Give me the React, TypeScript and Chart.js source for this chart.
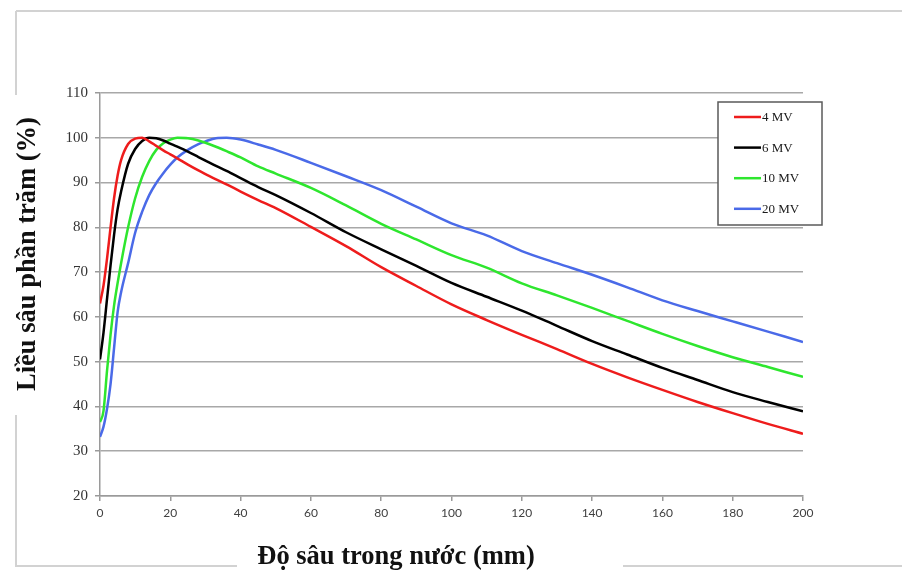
import { useEffect, useRef } from "react";
import { Chart, registerables } from "chart.js";

Chart.register(...registerables);

// Depth in water (mm)
const depthMm = [0, 1, 2, 3, 4, 5, 6, 8, 10, 12, 14, 16, 18, 20, 22, 25, 28, 30, 33, 36, 40, 45, 50, 60, 70, 80, 90, 100, 110, 120, 130, 140, 150, 160, 170, 180, 190, 200];

// Percent depth dose (%)
const pdd4MV = [63, 67, 73, 80, 86.5, 91.5, 95, 98.6, 99.8, 100, 99.2, 98.2, 97.2, 96.3, 95.4, 94.0, 92.7, 91.9, 90.7, 89.6, 88.0, 86.1, 84.3, 80.1, 75.8, 71.1, 66.9, 62.8, 59.3, 56.0, 52.8, 49.5, 46.5, 43.7, 41.0, 38.5, 36.1, 33.9];
const pdd6MV = [50.5, 56.5, 64, 71.5, 78.3, 84, 88, 94.2, 97.5, 99.3, 100, 99.9, 99.4, 98.7, 98.0, 96.9, 95.7, 94.9, 93.7, 92.6, 91.0, 89.0, 87.2, 83.2, 78.9, 75.1, 71.4, 67.6, 64.5, 61.4, 58.0, 54.6, 51.6, 48.6, 45.9, 43.2, 41.0, 38.9];
const pdd10MV = [36.5, 39, 48, 56, 62.5, 67.5, 72, 80, 86.5, 91.3, 94.8, 97.3, 98.8, 99.6, 100, 99.9, 99.4, 98.9, 98.0, 97.0, 95.6, 93.6, 92.0, 88.8, 84.9, 80.8, 77.3, 73.8, 71.0, 67.5, 64.8, 62.0, 59.1, 56.2, 53.5, 51.0, 48.8, 46.6];
const pdd20MV = [33.2, 35.5, 39.5, 45, 53, 61, 65.5, 72, 78.8, 83.5, 87.2, 89.9, 92.1, 94.0, 95.6, 97.3, 98.6, 99.2, 99.9, 100, 99.6, 98.5, 97.3, 94.4, 91.4, 88.3, 84.6, 80.9, 78.2, 74.7, 72.0, 69.4, 66.6, 63.7, 61.3, 59.0, 56.7, 54.4];

const seriesLabels = ["4 MV", "6 MV", "10 MV", "20 MV"];
const seriesValues = [pdd4MV, pdd6MV, pdd10MV, pdd20MV];
const seriesColors = ["#ee1c1c", "#000000", "#2ee62e", "#4a6ae8"];

const xTitle = "Độ sâu trong nước (mm)";
const yTitle = "Liều sâu phần trăm (%)";

const decorPlugin = {
  id: "decor",
  beforeDraw(chart: any) {
    const ctx = chart.ctx as CanvasRenderingContext2D;
    ctx.save();
    ctx.fillStyle = "#ffffff";
    ctx.fillRect(0, 0, chart.width, chart.height);
    // outer frame
    ctx.strokeStyle = "#d2d2d2";
    ctx.lineWidth = 2;
    ctx.beginPath();
    ctx.moveTo(16, 11);
    ctx.lineTo(902, 11);
    ctx.moveTo(16, 11);
    ctx.lineTo(16, 95);
    ctx.moveTo(16, 415);
    ctx.lineTo(16, 566);
    ctx.lineTo(237, 566);
    ctx.moveTo(623, 566);
    ctx.lineTo(902, 566);
    ctx.stroke();
    ctx.restore();
  },
  afterDraw(chart: any) {
    const ctx = chart.ctx as CanvasRenderingContext2D;
    ctx.save();
    // legend box
    const bx = 718, by = 102, bw = 104, bh = 123;
    ctx.fillStyle = "#ffffff";
    ctx.fillRect(bx, by, bw, bh);
    ctx.strokeStyle = "#5a5a5a";
    ctx.lineWidth = 1.5;
    ctx.strokeRect(bx, by, bw, bh);
    ctx.font = '13px "Liberation Serif"';
    ctx.textBaseline = "middle";
    ctx.textAlign = "left";
    seriesLabels.forEach((lab, i) => {
      const y = 117 + i * 30.6;
      ctx.strokeStyle = seriesColors[i];
      ctx.lineWidth = 2.5;
      ctx.beginPath();
      ctx.moveTo(734, y);
      ctx.lineTo(761, y);
      ctx.stroke();
      ctx.fillStyle = "#1a1a1a";
      ctx.fillText(lab, 762, y + 0.5);
    });
    // axis titles
    ctx.fillStyle = "#111111";
    ctx.font = 'bold 26.5px "Liberation Serif"';
    ctx.textAlign = "center";
    ctx.textBaseline = "alphabetic";
    ctx.fillText(xTitle, 396, 564);
    ctx.translate(35, 254);
    ctx.rotate(-Math.PI / 2);
    ctx.fillText(yTitle, 0, 0);
    ctx.restore();
  },
};

export default function App() {
  const ref = useRef<HTMLCanvasElement>(null);
  useEffect(() => {
    const chart = new Chart(ref.current!, {
      type: "line",
      data: {
        datasets: seriesLabels.map((label, i) => ({
          label,
          data: depthMm.map((d, j) => ({ x: d, y: seriesValues[i][j] })),
          borderColor: seriesColors[i],
          backgroundColor: seriesColors[i],
          borderWidth: 2.5,
          pointRadius: 0,
          cubicInterpolationMode: "monotone" as const,
          fill: false,
        })),
      },
      options: {
        animation: false,
        responsive: false,
        devicePixelRatio: 1,
        layout: { padding: { top: 93, right: 99, bottom: 44, left: 0 } },
        plugins: { legend: { display: false }, tooltip: { enabled: false } },
        scales: {
          x: {
            type: "linear",
            min: 0,
            max: 200,
            afterFit: (s: any) => {
              s.height = 30;
            },
            ticks: {
              stepSize: 20,
              color: "#404040",
              font: { family: "Lato", size: 12 },
              padding: 5,
              maxRotation: 0,
            },
            grid: { drawOnChartArea: false, drawTicks: true, tickLength: 5, color: "#9a9a9a", lineWidth: 1.5 },
            border: { display: true, color: "#9a9a9a", width: 1.5 },
          },
          y: {
            type: "linear",
            min: 20,
            max: 110,
            afterFit: (s: any) => {
              s.width = 100;
            },
            ticks: {
              stepSize: 10,
              color: "#333333",
              font: { family: "Liberation Serif", size: 15 },
              padding: 7,
            },
            grid: { color: "#a8a8a8", lineWidth: 1.5, tickLength: 5, tickColor: "#9a9a9a" },
            border: { display: true, color: "#9a9a9a", width: 1.5 },
          },
        },
      },
      plugins: [decorPlugin],
    });
    return () => chart.destroy();
  }, []);
  return (
    <div style={{ position: "absolute", left: 0, top: 0, width: 902, height: 570 }}>
      <canvas ref={ref} width={902} height={570} style={{ display: "block", width: 902, height: 570 }} />
    </div>
  );
}
